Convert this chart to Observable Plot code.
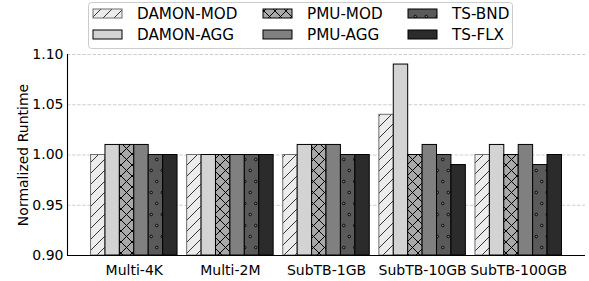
<!DOCTYPE html>
<html><head><meta charset="utf-8">
<script src="https://cdn.jsdelivr.net/npm/d3@7"></script>
<script src="https://cdn.jsdelivr.net/npm/@observablehq/plot@0.6"></script>
<style>
body{margin:0;background:#fff;font-family:"DejaVu Sans",sans-serif;}
#wrap{position:relative;width:589px;height:281px;}
#legend{position:absolute;left:0;top:0;}
</style>
</head><body><div id="wrap"></div>
<script>
const categories = ["Multi-4K","Multi-2M","SubTB-1GB","SubTB-10GB","SubTB-100GB"];
const seriesNames = ["DAMON-MOD","DAMON-AGG","PMU-MOD","PMU-AGG","TS-BND","TS-FLX"];
const damonMod = [1.00,1.00,1.00,1.04,1.00];
const damonAgg = [1.01,1.00,1.01,1.09,1.01];
const pmuMod   = [1.01,1.00,1.01,1.00,1.00];
const pmuAgg   = [1.01,1.00,1.01,1.01,1.01];
const tsBnd    = [1.00,1.00,1.00,1.00,0.99];
const tsFlx    = [1.00,1.00,1.00,0.99,1.00];
const yTicks = [0.90,0.95,1.00,1.05,1.10];

const seriesValues = [damonMod,damonAgg,pmuMod,pmuAgg,tsBnd,tsFlx];
const barW = 0.15;
const rows = [];
seriesNames.forEach((s,si)=>categories.forEach((c,ci)=>rows.push({s,si,c,ci,v:seriesValues[si][ci]})));

const styles = [
  {fill:"url(#p-slash)", stroke:"#6e6e6e"},
  {fill:"#d3d3d3", stroke:"#000"},
  {fill:"url(#p-cross)", stroke:"#000"},
  {fill:"#808080", stroke:"#000"},
  {fill:"url(#p-dots)", stroke:"#000"},
  {fill:"#2b2b2b", stroke:"#000"}
];
const FS = 14;

const chart = Plot.plot({
  width:589, height:281,
  marginTop:54, marginBottom:26, marginLeft:67, marginRight:4,
  style:{fontFamily:"DejaVu Sans", fontSize:FS+"px", color:"#000", background:"#fff"},
  x:{type:"linear", domain:[-0.695, 4.695], axis:null},
  y:{domain:[0.9,1.1], axis:null},
  marks:[
    Plot.gridY(yTicks, {stroke:"#c8c8c8", strokeOpacity:1, strokeWidth:0.9, strokeDasharray:"3.5,1.6"}),
    ...styles.map((st,si)=>Plot.rect(rows.filter(d=>d.si===si), {
      x1:d=>d.ci+(d.si-3)*barW, x2:d=>d.ci+(d.si-2)*barW,
      y1:()=>yTicks[0], y2:"v",
      fill:st.fill, stroke:st.stroke, strokeWidth:1
    })),
    Plot.axisY(yTicks, {tickSize:0, tickPadding:4, tickFormat:d3.format(".2f"), fontSize:FS,
      label:"Normalized Runtime", labelAnchor:"center", labelArrow:"none", labelOffset:49.5}),
    Plot.axisX(categories.map((c,i)=>i), {tickSize:0, tickPadding:9.5, fontSize:FS,
      tickFormat:i=>categories[i], label:null}),
    Plot.ruleX([-0.695], {stroke:"#000", strokeWidth:1.1}),
    Plot.ruleY([0.9], {stroke:"#000", strokeWidth:1.1})
  ]
});

// patterns
const svg = d3.select(chart);
const defs = svg.insert("defs", ":first-child");
const P = 11;
const pSlash = defs.append("pattern").attr("id","p-slash").attr("patternUnits","userSpaceOnUse").attr("width",P).attr("height",P);
pSlash.append("rect").attr("width",P).attr("height",P).attr("fill","#ececec");
pSlash.append("path").attr("d",`M0,${P} L${P},0 M-2,2 L2,-2 M${P-2},${P+2} L${P+2},${P-2}`).attr("stroke","#333").attr("stroke-width",1);
const pCross = defs.append("pattern").attr("id","p-cross").attr("patternUnits","userSpaceOnUse").attr("width",P).attr("height",P);
pCross.append("rect").attr("width",P).attr("height",P).attr("fill","#a9a9a9");
pCross.append("path").attr("d",`M0,${P} L${P},0 M-2,2 L2,-2 M${P-2},${P+2} L${P+2},${P-2} M0,0 L${P},${P} M-2,${P-2} L2,${P+2} M${P-2},-2 L${P+2},2`).attr("stroke","#000").attr("stroke-width",1);
const pDots = defs.append("pattern").attr("id","p-dots").attr("patternUnits","userSpaceOnUse").attr("width",P).attr("height",2*P);
pDots.append("rect").attr("width",P).attr("height",2*P).attr("fill","#5a5a5a");
pDots.append("circle").attr("cx",P*0.25).attr("cy",P*0.5).attr("r",1.3).attr("fill","#777").attr("stroke","#000").attr("stroke-width",0.9);
pDots.append("circle").attr("cx",P*0.75).attr("cy",P*1.5).attr("r",1.3).attr("fill","#777").attr("stroke","#000").attr("stroke-width",0.9);

const wrap = document.getElementById("wrap");
wrap.appendChild(chart);

// legend overlay
const lg = d3.select(wrap).append("svg").attr("id","legend").attr("width",589).attr("height",52)
  .style("font-family","DejaVu Sans").style("font-size","15.2px");
lg.append("rect").attr("x",88.5).attr("y",2.5).attr("width",424).attr("height",46).attr("rx",3)
  .attr("fill","#fff").attr("fill-opacity",0.85).attr("stroke","#cccccc").attr("stroke-width",1);
const colX = [93,263,408];
const rowY = [13.5,34.5];
seriesNames.forEach((s,i)=>{
  const cx = colX[Math.floor(i/2)], cy = rowY[i%2];
  lg.append("rect").attr("x",cx).attr("y",cy-4.5).attr("width",29).attr("height",9)
    .attr("fill",styles[i].fill).attr("stroke",styles[i].stroke).attr("stroke-width",1);
  lg.append("text").attr("x",cx+44).attr("y",cy).attr("dy","0.36em").attr("fill","#000").text(s);
});
</script>
</body></html>
